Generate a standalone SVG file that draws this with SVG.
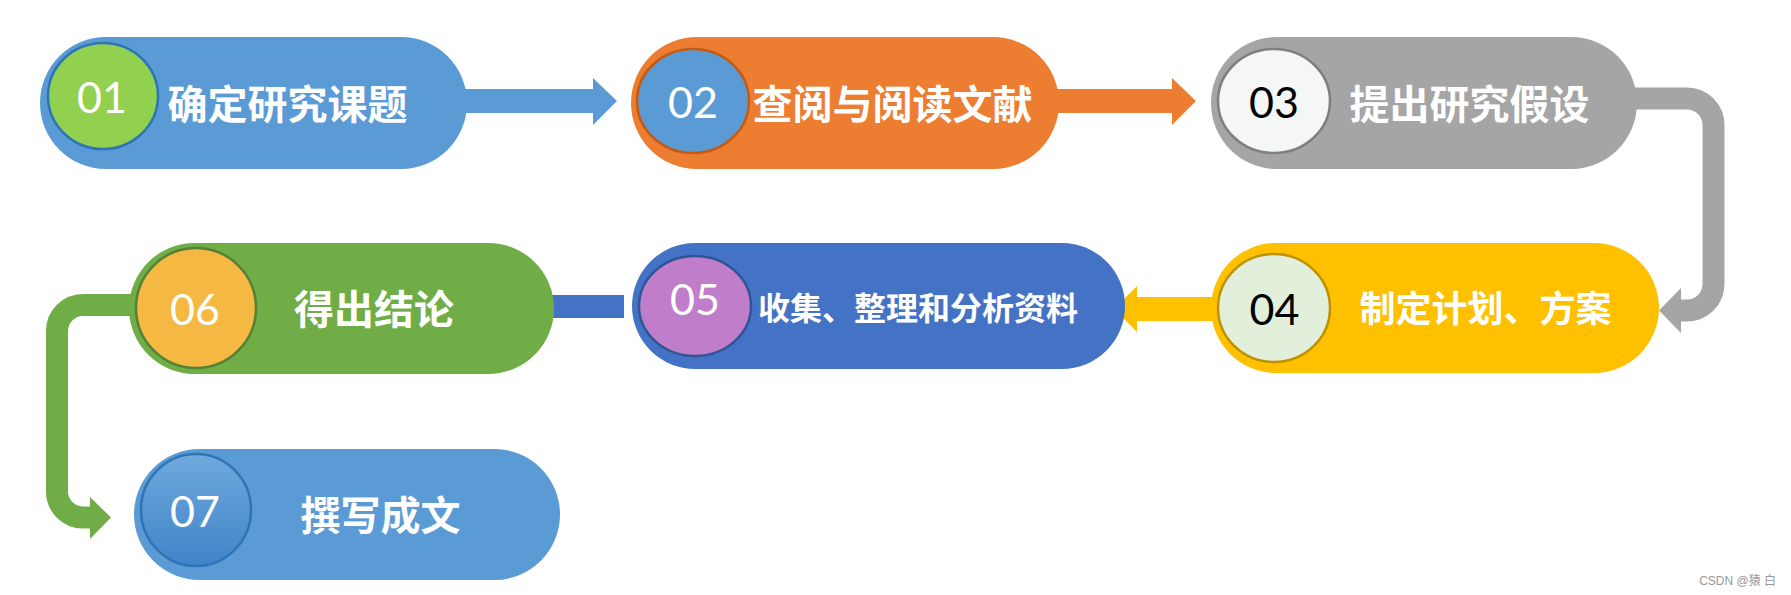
<svg xmlns="http://www.w3.org/2000/svg" width="1791" height="595" viewBox="0 0 1791 595">
<defs>
<linearGradient id="g07" x1="0" y1="0" x2="0" y2="1">
<stop offset="0" stop-color="#6FA9DD"/>
<stop offset="1" stop-color="#3F84C8"/>
</linearGradient>
<style>
.lbl{font-family:"Noto Sans CJK SC","Noto Sans CJK TC",sans-serif;font-weight:bold;fill:#FFFFFF;text-anchor:middle;}
.num{font-family:Lato,"Open Sans","Liberation Sans",sans-serif;font-size:43px;text-anchor:middle;}
.w{fill:#FFFFFF;}
.k{fill:#000000;}
.bend{fill:none;stroke-width:22;}
.ring{stroke-width:2.5;}
</style>
</defs>
<rect width="1791" height="595" fill="#FFFFFF"/>

<g id="connectors">
<!-- 01 -> 02 -->
<rect x="460" y="89" width="134" height="24" fill="#5B9BD5"/>
<polygon points="593,78 617,101 593,125" fill="#5B9BD5"/>
<!-- 02 -> 03 -->
<rect x="1050" y="89" width="123" height="24" fill="#ED7D31"/>
<polygon points="1172,78 1196,101 1172,125" fill="#ED7D31"/>
<!-- 03 -> 04 -->
<path class="bend" stroke="#A5A5A5" d="M1630,98.5 H1687 A26.5,26.5 0 0 1 1713.5,125 V284 A26.5,26.5 0 0 1 1687,310.5 H1679"/>
<polygon points="1681,288 1659,310.5 1681,333" fill="#A5A5A5"/>
<!-- 04 -> 05 -->
<rect x="1136" y="297" width="80" height="24" fill="#FFC000"/>
<polygon points="1137,286 1114,309 1137,332" fill="#FFC000"/>
<!-- 05 -> 06 -->
<rect x="540" y="295" width="84" height="23" fill="#4472C4"/>
<!-- 06 -> 07 -->
<path class="bend" stroke="#70AD47" d="M136,305 H83 A26,26 0 0 0 57,331 V491.5 A26,26 0 0 0 83,517.5 H92"/>
<polygon points="90,497 111,517.5 90,539" fill="#70AD47"/>
</g>

<g id="node01">
<rect x="40" y="37" width="427" height="132" rx="66" fill="#5B9BD5"/>
<ellipse cx="103" cy="96" rx="55" ry="53" fill="#92D050" stroke="#2E75B6" class="ring"/>
<text class="num w" x="102" y="113">01</text>
<text class="lbl" x="287.5" y="118.5" font-size="40">确定研究课题</text>
</g>

<g id="node02">
<rect x="631" y="37" width="428" height="132" rx="66" fill="#ED7D31"/>
<ellipse cx="693" cy="101" rx="56" ry="52" fill="#5B9BD5" stroke="#C55A11" class="ring"/>
<text class="num w" x="693" y="118">02</text>
<text class="lbl" x="892.5" y="118.5" font-size="40">查阅与阅读文献</text>
</g>

<g id="node03">
<rect x="1211" y="37" width="426" height="132" rx="66" fill="#A5A5A5"/>
<ellipse cx="1274" cy="101" rx="56" ry="52" fill="#F4F7F6" stroke="#7F7F7F" class="ring"/>
<text class="num k" x="1274" y="118">03</text>
<text class="lbl" x="1469.5" y="118.5" font-size="40">提出研究假设</text>
</g>

<g id="node04">
<rect x="1211" y="243" width="448" height="130" rx="65" fill="#FFC000"/>
<ellipse cx="1274" cy="308" rx="56" ry="54" fill="#E2EFDA" stroke="#BF9000" class="ring"/>
<text class="num k" x="1274.5" y="325">04</text>
<text class="lbl" x="1485.5" y="321.5" font-size="36">制定计划、方案</text>
</g>

<g id="node05">
<rect x="632" y="243" width="493" height="126" rx="63" fill="#4472C4"/>
<ellipse cx="695" cy="306" rx="56" ry="50" fill="#C07DCA" stroke="#2F5597" class="ring"/>
<text class="num w" x="695" y="315">05</text>
<text class="lbl" x="918" y="320" font-size="32">收集、整理和分析资料</text>
</g>

<g id="node06">
<rect x="129" y="243" width="425" height="131" rx="65.5" fill="#70AD47"/>
<ellipse cx="196" cy="308" rx="60" ry="60" fill="#F4B843" stroke="#548235" class="ring"/>
<text class="num w" x="195" y="325">06</text>
<text class="lbl" x="374" y="323.5" font-size="40">得出结论</text>
</g>

<g id="node07">
<rect x="134" y="449" width="426" height="131" rx="65.5" fill="#5B9BD5"/>
<ellipse cx="196" cy="510" rx="55" ry="56" fill="url(#g07)" stroke="#2E75B6" class="ring"/>
<text class="num w" x="195" y="527">07</text>
<text class="lbl" x="380.5" y="529.5" font-size="40">撰写成文</text>
</g>

<text x="1776" y="585" font-family="'Liberation Sans','Noto Sans CJK SC',sans-serif" font-size="12" fill="#999999" text-anchor="end">CSDN @猿 白</text>
</svg>
